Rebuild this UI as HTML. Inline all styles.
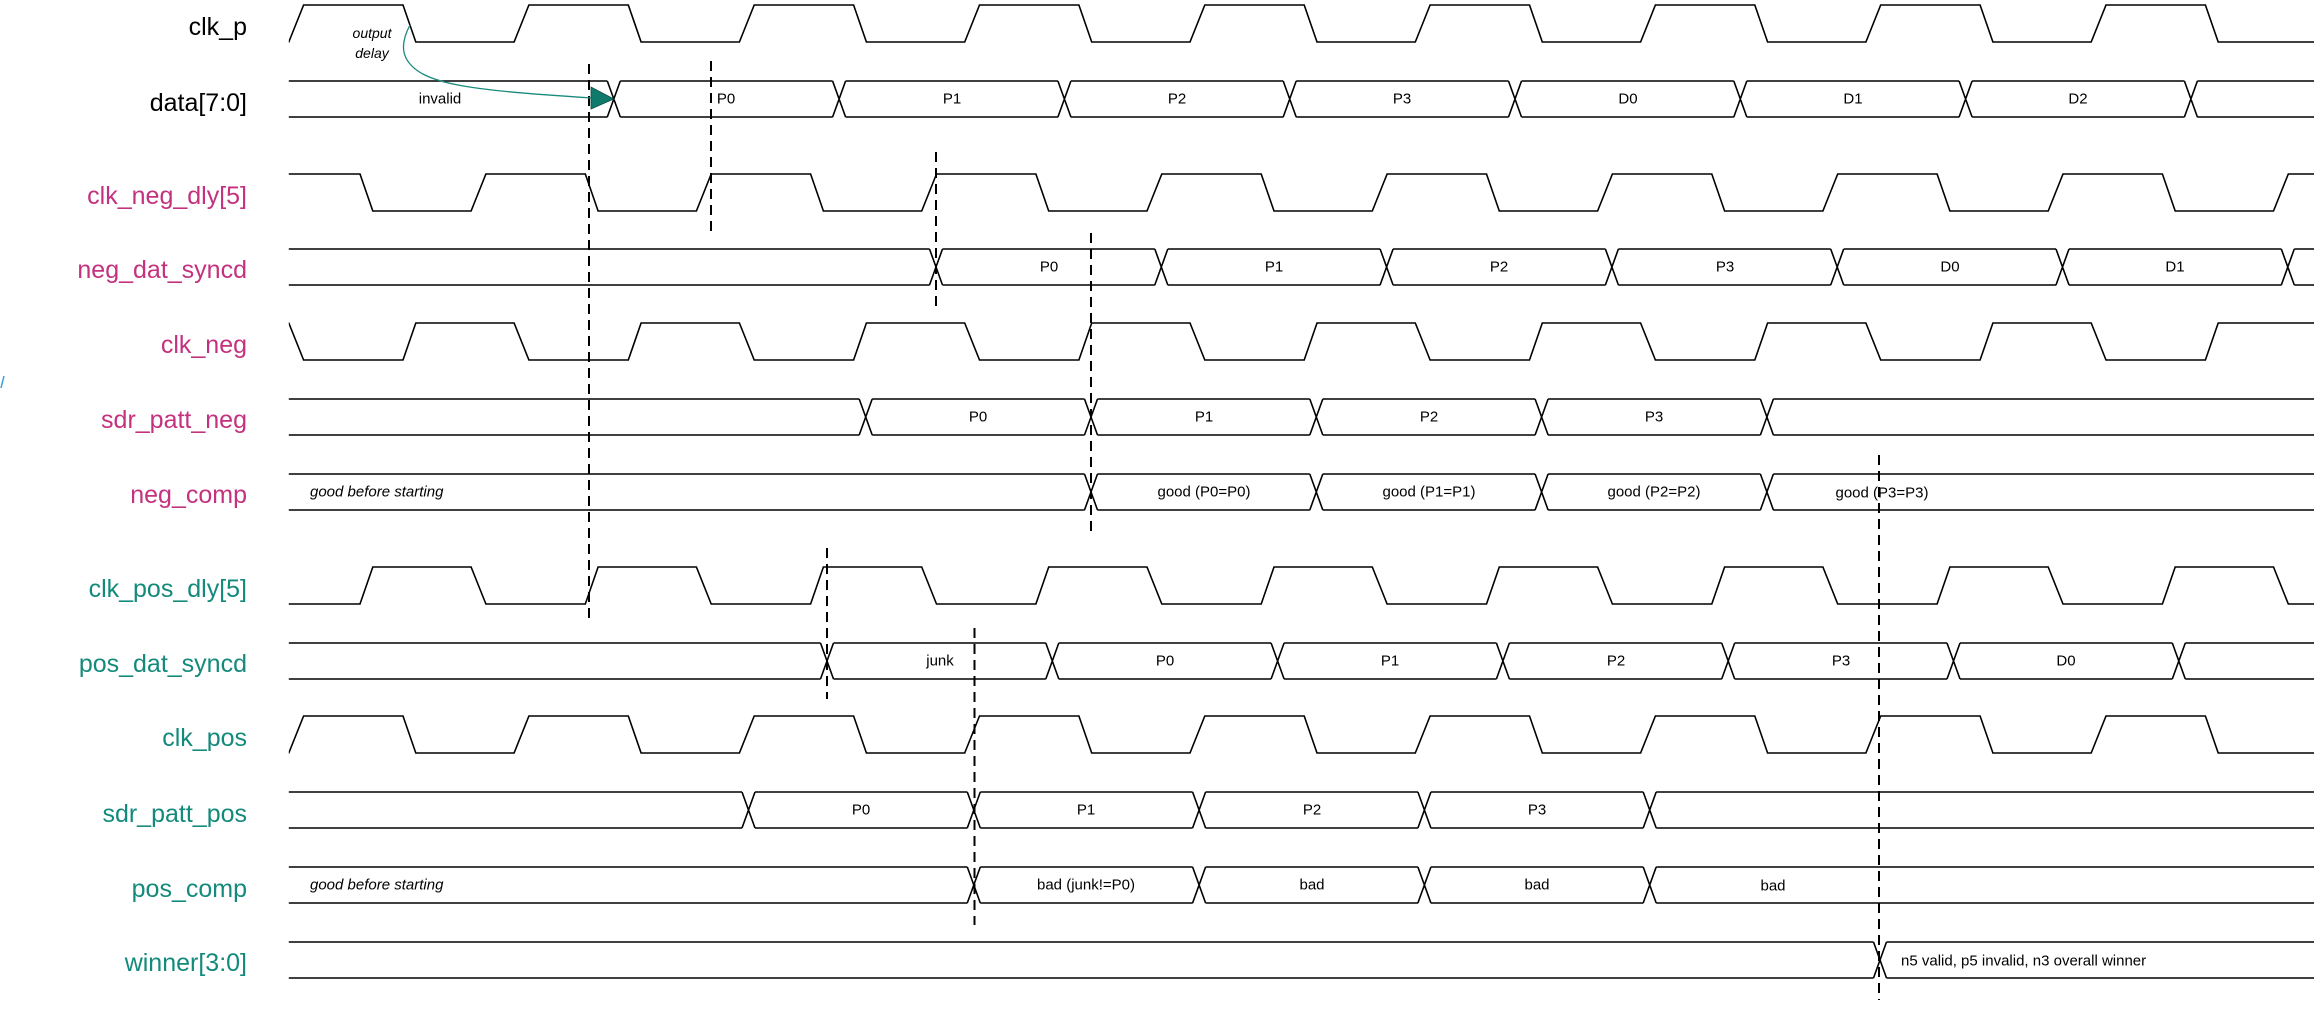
<!DOCTYPE html>
<html><head><meta charset="utf-8"><style>
html,body{margin:0;padding:0;background:#fff;width:2322px;height:1012px;overflow:hidden}
svg{display:block}
.lb{font-family:"Liberation Sans",sans-serif;font-size:25px;text-anchor:end;dominant-baseline:central}
.t{font-family:"Liberation Sans",sans-serif;font-size:15px;text-anchor:middle;dominant-baseline:central;fill:#000}
.i{font-family:"Liberation Sans",sans-serif;font-size:15px;font-style:italic;dominant-baseline:central;fill:#000}
.w{fill:none;stroke:#000;stroke-width:1.6}
.d{fill:none;stroke:#000;stroke-width:2;stroke-dasharray:10 6}
.m{fill:#c4317e}.g{fill:#138a7b}.k{fill:#000}
</style></head><body>
<svg width="2322" height="1012" viewBox="0 0 2322 1012" xmlns="http://www.w3.org/2000/svg">
<defs>
<clipPath id="cp"><rect x="288.8" y="0" width="2025.2" height="1012"/></clipPath>
<path id="clk" d="M0 37 L63.5 37 L78.3 0 L177.7 0 L190.5 37 L288.8 37 L303.6 0 L403 0 L415.8 37 L514.1 37 L528.9 0 L628.3 0 L641.1 37 L739.4 37 L754.2 0 L853.6 0 L866.4 37 L964.7 37 L979.5 0 L1078.9 0 L1091.7 37 L1190 37 L1204.8 0 L1304.2 0 L1317 37 L1415.3 37 L1430.1 0 L1529.5 0 L1542.3 37 L1640.6 37 L1655.4 0 L1754.8 0 L1767.6 37 L1865.9 37 L1880.7 0 L1980.1 0 L1992.9 37 L2091.2 37 L2106 0 L2205.4 0 L2218.2 37 L2316.5 37 L2331.3 0 L2430.7 0 L2443.5 37"/>
</defs>

<text class="lb k" x="247" y="27">clk_p</text>
<text class="lb k" x="247" y="103">data[7:0]</text>
<text class="lb m" x="247" y="196">clk_neg_dly[5]</text>
<text class="lb m" x="247" y="270">neg_dat_syncd</text>
<text class="lb m" x="247" y="345">clk_neg</text>
<text class="lb m" x="247" y="420">sdr_patt_neg</text>
<text class="lb m" x="247" y="495">neg_comp</text>
<text class="lb g" x="247" y="589">clk_pos_dly[5]</text>
<text class="lb g" x="247" y="664">pos_dat_syncd</text>
<text class="lb g" x="247" y="738">clk_pos</text>
<text class="lb g" x="247" y="814">sdr_patt_pos</text>
<text class="lb g" x="247" y="889">pos_comp</text>
<text class="lb g" x="247" y="963">winner[3:0]</text>
<path d="M1 388 L4 376" stroke="#3aa0d8" stroke-width="1.5"/>

<g clip-path="url(#cp)">
<use href="#clk" class="w" transform="translate(0,5)"/>
<use href="#clk" class="w" transform="translate(-43,174)"/>
<use href="#clk" class="w" transform="translate(0,360) scale(1,-1)"/>
<use href="#clk" class="w" transform="translate(-43,604) scale(1,-1)"/>
<use href="#clk" class="w" transform="translate(0,716)"/>
</g>

<g transform="translate(0,81)"><path class="w" d="M288.8 0 H607.3 M620.3 0 H832.6 M845.6 0 H1057.9 M1070.9 0 H1283.2 M1296.2 0 H1508.5 M1521.5 0 H1733.8 M1746.8 0 H1959.1 M1972.1 0 H2184.4 M2197.4 0 H2314
M288.8 36 H607.3 M620.3 36 H832.6 M845.6 36 H1057.9 M1070.9 36 H1283.2 M1296.2 36 H1508.5 M1521.5 36 H1733.8 M1746.8 36 H1959.1 M1972.1 36 H2184.4 M2197.4 36 H2314
M607.3 0 L620.3 36 M607.3 36 L620.3 0 M832.6 0 L845.6 36 M832.6 36 L845.6 0 M1057.9 0 L1070.9 36 M1057.9 36 L1070.9 0 M1283.2 0 L1296.2 36 M1283.2 36 L1296.2 0 M1508.5 0 L1521.5 36 M1508.5 36 L1521.5 0 M1733.8 0 L1746.8 36 M1733.8 36 L1746.8 0 M1959.1 0 L1972.1 36 M1959.1 36 L1972.1 0 M2184.4 0 L2197.4 36 M2184.4 36 L2197.4 0"/>
<text class="t" x="440" y="18">invalid</text><text class="t" x="726" y="18">P0</text><text class="t" x="952" y="18">P1</text><text class="t" x="1177" y="18">P2</text><text class="t" x="1402" y="18">P3</text><text class="t" x="1628" y="18">D0</text><text class="t" x="1853" y="18">D1</text><text class="t" x="2078" y="18">D2</text></g>

<g transform="translate(0,249)"><path class="w" d="M288.8 0 H929.5 M942.5 0 H1154.8 M1167.8 0 H1380.1 M1393.1 0 H1605.4 M1618.4 0 H1830.7 M1843.7 0 H2056 M2069 0 H2281.3 M2294.3 0 H2314
M288.8 36 H929.5 M942.5 36 H1154.8 M1167.8 36 H1380.1 M1393.1 36 H1605.4 M1618.4 36 H1830.7 M1843.7 36 H2056 M2069 36 H2281.3 M2294.3 36 H2314
M929.5 0 L942.5 36 M929.5 36 L942.5 0 M1154.8 0 L1167.8 36 M1154.8 36 L1167.8 0 M1380.1 0 L1393.1 36 M1380.1 36 L1393.1 0 M1605.4 0 L1618.4 36 M1605.4 36 L1618.4 0 M1830.7 0 L1843.7 36 M1830.7 36 L1843.7 0 M2056 0 L2069 36 M2056 36 L2069 0 M2281.3 0 L2294.3 36 M2281.3 36 L2294.3 0"/>
<text class="t" x="1049" y="18">P0</text><text class="t" x="1274" y="18">P1</text><text class="t" x="1499" y="18">P2</text><text class="t" x="1725" y="18">P3</text><text class="t" x="1950" y="18">D0</text><text class="t" x="2175" y="18">D1</text></g>

<g transform="translate(0,399)"><path class="w" d="M288.8 0 H859.2 M872.2 0 H1084.5 M1097.5 0 H1309.8 M1322.8 0 H1535.1 M1548.1 0 H1760.4 M1773.4 0 H2314
M288.8 36 H859.2 M872.2 36 H1084.5 M1097.5 36 H1309.8 M1322.8 36 H1535.1 M1548.1 36 H1760.4 M1773.4 36 H2314
M859.2 0 L872.2 36 M859.2 36 L872.2 0 M1084.5 0 L1097.5 36 M1084.5 36 L1097.5 0 M1309.8 0 L1322.8 36 M1309.8 36 L1322.8 0 M1535.1 0 L1548.1 36 M1535.1 36 L1548.1 0 M1760.4 0 L1773.4 36 M1760.4 36 L1773.4 0"/>
<text class="t" x="978" y="18">P0</text><text class="t" x="1204" y="18">P1</text><text class="t" x="1429" y="18">P2</text><text class="t" x="1654" y="18">P3</text></g>

<g transform="translate(0,474)"><path class="w" d="M288.8 0 H1084.5 M1097.5 0 H1309.8 M1322.8 0 H1535.1 M1548.1 0 H1760.4 M1773.4 0 H2314
M288.8 36 H1084.5 M1097.5 36 H1309.8 M1322.8 36 H1535.1 M1548.1 36 H1760.4 M1773.4 36 H2314
M1084.5 0 L1097.5 36 M1084.5 36 L1097.5 0 M1309.8 0 L1322.8 36 M1309.8 36 L1322.8 0 M1535.1 0 L1548.1 36 M1535.1 36 L1548.1 0 M1760.4 0 L1773.4 36 M1760.4 36 L1773.4 0"/>
<text class="i" x="310" y="18">good before starting</text>
<text class="t" x="1204" y="18">good (P0=P0)</text><text class="t" x="1429" y="18">good (P1=P1)</text><text class="t" x="1654" y="18">good (P2=P2)</text><text class="t" x="1882" y="19">good (P3=P3)</text></g>

<g transform="translate(0,643)"><path class="w" d="M288.8 0 H820.5 M833.5 0 H1045.8 M1058.8 0 H1271.1 M1284.1 0 H1496.4 M1509.4 0 H1721.7 M1734.7 0 H1947 M1960 0 H2172.3 M2185.3 0 H2314
M288.8 36 H820.5 M833.5 36 H1045.8 M1058.8 36 H1271.1 M1284.1 36 H1496.4 M1509.4 36 H1721.7 M1734.7 36 H1947 M1960 36 H2172.3 M2185.3 36 H2314
M820.5 0 L833.5 36 M820.5 36 L833.5 0 M1045.8 0 L1058.8 36 M1045.8 36 L1058.8 0 M1271.1 0 L1284.1 36 M1271.1 36 L1284.1 0 M1496.4 0 L1509.4 36 M1496.4 36 L1509.4 0 M1721.7 0 L1734.7 36 M1721.7 36 L1734.7 0 M1947 0 L1960 36 M1947 36 L1960 0 M2172.3 0 L2185.3 36 M2172.3 36 L2185.3 0"/>
<text class="t" x="940" y="18">junk</text><text class="t" x="1165" y="18">P0</text><text class="t" x="1390" y="18">P1</text><text class="t" x="1616" y="18">P2</text><text class="t" x="1841" y="18">P3</text><text class="t" x="2066" y="18">D0</text></g>

<g transform="translate(0,792)"><path class="w" d="M288.8 0 H742 M755 0 H967.3 M980.3 0 H1192.6 M1205.6 0 H1417.9 M1430.9 0 H1643.2 M1656.2 0 H2314
M288.8 36 H742 M755 36 H967.3 M980.3 36 H1192.6 M1205.6 36 H1417.9 M1430.9 36 H1643.2 M1656.2 36 H2314
M742 0 L755 36 M742 36 L755 0 M967.3 0 L980.3 36 M967.3 36 L980.3 0 M1192.6 0 L1205.6 36 M1192.6 36 L1205.6 0 M1417.9 0 L1430.9 36 M1417.9 36 L1430.9 0 M1643.2 0 L1656.2 36 M1643.2 36 L1656.2 0"/>
<text class="t" x="861" y="18">P0</text><text class="t" x="1086" y="18">P1</text><text class="t" x="1312" y="18">P2</text><text class="t" x="1537" y="18">P3</text></g>

<g transform="translate(0,867)"><path class="w" d="M288.8 0 H967.3 M980.3 0 H1192.6 M1205.6 0 H1417.9 M1430.9 0 H1643.2 M1656.2 0 H2314
M288.8 36 H967.3 M980.3 36 H1192.6 M1205.6 36 H1417.9 M1430.9 36 H1643.2 M1656.2 36 H2314
M967.3 0 L980.3 36 M967.3 36 L980.3 0 M1192.6 0 L1205.6 36 M1192.6 36 L1205.6 0 M1417.9 0 L1430.9 36 M1417.9 36 L1430.9 0 M1643.2 0 L1656.2 36 M1643.2 36 L1656.2 0"/>
<text class="i" x="310" y="18">good before starting</text>
<text class="t" x="1086" y="18">bad (junk!=P0)</text><text class="t" x="1312" y="18">bad</text><text class="t" x="1537" y="18">bad</text><text class="t" x="1773" y="19">bad</text></g>

<g transform="translate(0,942)"><path class="w" d="M288.8 0 H1873.5 M1886.5 0 H2314 M288.8 36 H1873.5 M1886.5 36 H2314 M1873.5 0 L1886.5 36 M1873.5 36 L1886.5 0"/>
<text class="t" x="1901" y="19" style="text-anchor:start">n5 valid, p5 invalid, n3 overall winner</text></g>

<path class="d" d="M589 64 V624"/>
<path class="d" d="M711 61 V231"/>
<path class="d" d="M936 152 V308"/>
<path class="d" d="M1091 233 V532"/>
<path class="d" d="M827 548 V699"/>
<path class="d" d="M974.5 628 V925"/>
<path class="d" d="M1879 455 V1000"/>

<text class="i" x="372" y="33" style="text-anchor:middle;font-size:14px">output</text>
<text class="i" x="372" y="53" style="text-anchor:middle;font-size:14px">delay</text>
<path d="M410 25 C402 40 402 50 406 58 C420 85 470 90 592 98" fill="none" stroke="#1a8a7c" stroke-width="1.3"/>
<path d="M591 87 L591 109 L613.8 99 Z" fill="#0f7a6c" stroke="#0a4f46" stroke-width="0.8"/>
</svg>
</body></html>
